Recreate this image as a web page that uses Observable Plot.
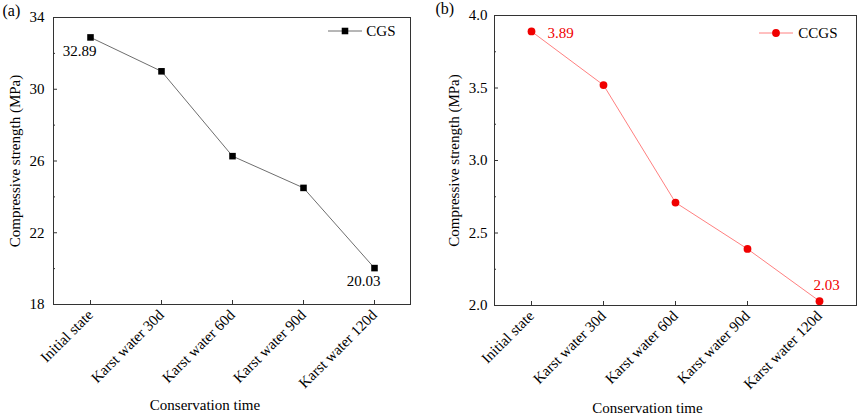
<!DOCTYPE html>
<html>
<head>
<meta charset="utf-8">
<script src="https://cdn.jsdelivr.net/npm/d3@7"></script>
<script src="https://cdn.jsdelivr.net/npm/@observablehq/plot@0.6"></script>
<style>
  html, body { margin: 0; padding: 0; background: #fff; }
  #wrap { position: relative; width: 858px; height: 415px; overflow: hidden; }
  #pa, #pb { position: absolute; top: 0; }
  #pa { left: 0; }
  #pb { left: 429px; }
  svg { font-family: "Liberation Serif", "Times New Roman", serif; }
</style>
</head>
<body>
<div id="wrap"><div id="pa"></div><div id="pb"></div></div>
<script>
const categories = ["Initial state", "Karst water 30d", "Karst water 60d", "Karst water 90d", "Karst water 120d"];
const cgsValues = [32.89, 31.0, 26.27, 24.5, 20.03];
const ccgsValues = [3.89, 3.52, 2.71, 2.39, 2.03];
const yTicksA = [18, 22, 26, 30, 34];
const yMinorA = [20, 24, 28, 32];
const yTicksB = [2.0, 2.5, 3.0, 3.5, 4.0];
const yMinorB = [2.25, 2.75, 3.25, 3.75];
const xTitle = "Conservation time";
const yTitle = "Compressive strength (MPa)";

const dataA = categories.map((c, i) => ({cat: c, v: cgsValues[i]}));
const dataB = categories.map((c, i) => ({cat: c, v: ccgsValues[i]}));

function legendMark(lineColor, symbol, fill, r, offRight, offTop, len) {
  return (index, scales, values, dims) => {
    const g = d3.create("svg:g");
    const x2 = dims.width - dims.marginRight - offRight;
    const x1 = x2 - len;
    const y = dims.marginTop + offTop;
    g.append("line").attr("x1", x1).attr("x2", x2).attr("y1", y).attr("y2", y)
      .attr("stroke", lineColor).attr("stroke-width", 1);
    const s = d3.symbol(symbol === "square" ? d3.symbolSquare : d3.symbolCircle, r * r * Math.PI);
    g.append("path").attr("d", s()).attr("transform", `translate(${(x1 + x2) / 2},${y})`).attr("fill", fill);
    return g.node();
  };
}

const FS = 15;

function panel(opts) {
  return Plot.plot({
    width: 429,
    height: 415,
    marginLeft: opts.ml,
    marginRight: opts.mr,
    marginTop: opts.mt,
    marginBottom: opts.mb,
    style: {fontFamily: '"Liberation Serif", "Times New Roman", serif', fontSize: FS + "px", color: "#000", background: "#fff"},
    x: {type: "point", domain: categories, padding: 0.5},
    y: {domain: opts.ydomain},
    marks: [
      Plot.frame({stroke: "#333", strokeWidth: 1}),
      Plot.axisY(opts.yticks, {tickSize: -4, tickPadding: opts.yPad, tickFormat: opts.fmt, label: null, stroke: "#333", fontSize: FS}),
      Plot.axisY(opts.yminor, {tickSize: -2, tickFormat: () => "", label: null, stroke: "#333"}),
      Plot.axisX({tickSize: -4, tickPadding: 12, tickRotate: -45, label: null, stroke: "#333", fontSize: FS}),
      Plot.line(opts.data, {x: "cat", y: "v", stroke: opts.lineColor, strokeWidth: 1}),
      Plot.dot(opts.data, {x: "cat", y: "v", symbol: opts.symbol, r: opts.r, fill: opts.dotColor, stroke: "none"}),
      Plot.text([opts.data[0]], {x: "cat", y: "v", text: d => d.v.toFixed(2), fill: opts.textColor, fontSize: FS, ...opts.firstLabel}),
      Plot.text([opts.data[opts.data.length - 1]], {x: "cat", y: "v", text: d => d.v.toFixed(2), fill: opts.textColor, fontSize: FS, ...opts.lastLabel}),
      Plot.text([yTitle], {frameAnchor: "left", dx: opts.yTitleDx, rotate: -90, textAnchor: "middle", lineAnchor: "bottom", fontSize: FS, fill: "#000"}),
      Plot.text([xTitle], {frameAnchor: "bottom", dx: opts.xTitleDx, dy: opts.xTitleDy, textAnchor: "middle", lineAnchor: "bottom", fontSize: FS, fill: "#000"}),
      Plot.text([opts.tag], {frameAnchor: "top-left", dx: opts.tagDx, dy: -2, textAnchor: "start", lineAnchor: "bottom", fontSize: 16, fill: "#000"}),
      Plot.text([opts.legend], {frameAnchor: "top-right", dx: opts.legDx, dy: opts.legDy, textAnchor: "end", lineAnchor: "middle", fontSize: FS, fill: "#000"}),
      legendMark(opts.lineColor, opts.symbol, opts.dotColor, opts.r, opts.legLineOff, opts.legDy, 34)
    ]
  });
}

document.getElementById("pa").appendChild(panel({
  ml: 53, mr: 19, mt: 17, mb: 111,
  ydomain: [18, 34], yticks: yTicksA, yminor: yMinorA, fmt: d => String(d), yPad: 13,
  data: dataA, lineColor: "#6e6e6e", dotColor: "#000", textColor: "#000",
  symbol: "square", r: 3.7,
  firstLabel: {dx: -11, dy: 14, textAnchor: "middle", lineAnchor: "middle"},
  lastLabel: {dx: -11, dy: 13, textAnchor: "middle", lineAnchor: "middle"},
  yTitleDx: -34, xTitleDx: -27, xTitleDy: 105, tagDx: -51, tag: "(a)",
  legend: "CGS", legDx: -15, legDy: 14, legLineOff: 48
}));

document.getElementById("pb").appendChild(panel({
  ml: 65, mr: 2, mt: 15, mb: 110,
  ydomain: [2, 4], yticks: yTicksB, yminor: yMinorB, fmt: d3.format(".1f"), yPad: 11,
  data: dataB, lineColor: "#ff8080", dotColor: "#f00000", textColor: "#f00000",
  symbol: "circle", r: 3.9,
  firstLabel: {dx: 16, dy: 2, textAnchor: "start", lineAnchor: "middle"},
  lastLabel: {dx: 7, dy: -16, textAnchor: "middle", lineAnchor: "middle"},
  yTitleDx: -36, xTitleDx: -28, xTitleDy: 107, tagDx: -59, tag: "(b)",
  legend: "CCGS", legDx: -19, legDy: 18, legLineOff: 63
}));
</script>
</body>
</html>
